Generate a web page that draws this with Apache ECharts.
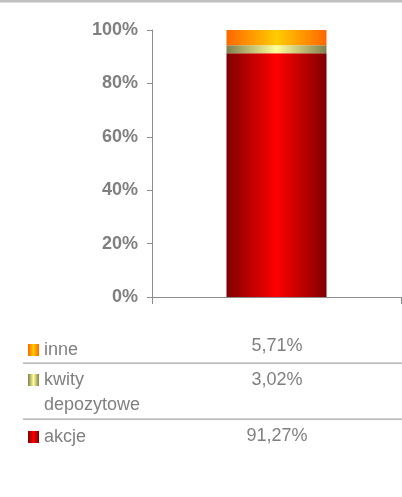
<!DOCTYPE html>
<html>
<head>
<meta charset="utf-8">
<script src="https://cdn.jsdelivr.net/npm/echarts@6/dist/echarts.min.js"></script>
<style>
html,body{margin:0;padding:0;background:#fff;}
#c{width:402px;height:497px;}
</style>
</head>
<body>
<div id="c"></div>
<script>
var categories = [''];
var seriesNames = ['akcje', 'kwity depozytowe', 'inne'];
var akcje = [91.27];
var kwity = [3.02];
var inne = [5.71];
var yTicks = [0, 20, 40, 60, 80, 100];
var legendLabels = ['inne', 'kwity\ndepozytowe', 'akcje'];
var legendValues = [inne[0], kwity[0], akcje[0]];

function grad(edge, mid) {
  return new echarts.graphic.LinearGradient(0, 0, 1, 0, [
    {offset: 0, color: edge}, {offset: 0.5, color: mid}, {offset: 1, color: edge}
  ]);
}
var colAkcje = grad('#800000', '#ff0000');
var colKwity = grad('#808050', '#ffff99');
var colInne = grad('#ff6600', '#ffcc00');
var legendColors = [colInne, colKwity, colAkcje];

var chart = echarts.init(document.getElementById('c'), null, {renderer: 'canvas'});

function fmt(v) { return v.toFixed(2).replace('.', ',') + '%'; }

var FONT = '18px "Liberation Sans", Arial, sans-serif';
var rowIconY = [344, 374, 431];
var rowTextY = [350, 367.5, 437];
var rowValY = [346, 380, 436];
var graphics = [
  {type: 'rect', shape: {x: 0, y: 0, width: 402, height: 2.5}, style: {fill: '#c0c0c0'}},
  {type: 'rect', shape: {x: 23, y: 362.5, width: 379, height: 1.2}, style: {fill: '#a6a6a6'}},
  {type: 'rect', shape: {x: 23, y: 418.5, width: 379, height: 1.2}, style: {fill: '#a6a6a6'}}
];
for (var i = 0; i < legendLabels.length; i++) {
  graphics.push({type: 'rect', shape: {x: 28, y: rowIconY[i], width: 11, height: 12}, style: {fill: legendColors[i]}});
  graphics.push({type: 'text', x: 44, y: rowTextY[i], style: {
    text: legendLabels[i], fill: '#808080', font: FONT,
    textVerticalAlign: i === 1 ? 'top' : 'middle', lineHeight: 25, verticalAlign: i === 1 ? 'top' : 'middle'
  }});
  graphics.push({type: 'text', x: 277, y: rowValY[i], style: {
    text: fmt(legendValues[i]), fill: '#808080', font: FONT,
    textAlign: 'center', align: 'center', textVerticalAlign: 'middle', verticalAlign: 'middle'
  }});
}

var option = {
  animation: false,
  grid: {left: 152, top: 30, right: 1, bottom: 200, containLabel: false},
  xAxis: {
    type: 'category', data: categories,
    axisLine: {lineStyle: {color: '#8c8c8c', width: 1}},
    axisTick: {show: true, length: 7, lineStyle: {color: '#8c8c8c'}},
    axisLabel: {show: false}
  },
  yAxis: {
    type: 'value', min: 0, max: 100, interval: 20,
    axisLine: {show: true, lineStyle: {color: '#8c8c8c', width: 1}},
    axisTick: {show: true, length: 5, lineStyle: {color: '#8c8c8c'}},
    splitLine: {show: false},
    axisLabel: {formatter: '{value}%', color: '#808080', fontWeight: 'bold', fontSize: 18,
      fontFamily: '"Liberation Sans", Arial, sans-serif', margin: 14, padding: [3, 0, 0, 0]}
  },
  series: [
    {name: seriesNames[0], type: 'bar', stack: 's', data: akcje, barWidth: 100, itemStyle: {color: colAkcje}},
    {name: seriesNames[1], type: 'bar', stack: 's', data: kwity, barWidth: 100, itemStyle: {color: colKwity}},
    {name: seriesNames[2], type: 'bar', stack: 's', data: inne, barWidth: 100, itemStyle: {color: colInne}}
  ],
  graphic: graphics
};
chart.setOption(option);
</script>
</body>
</html>
